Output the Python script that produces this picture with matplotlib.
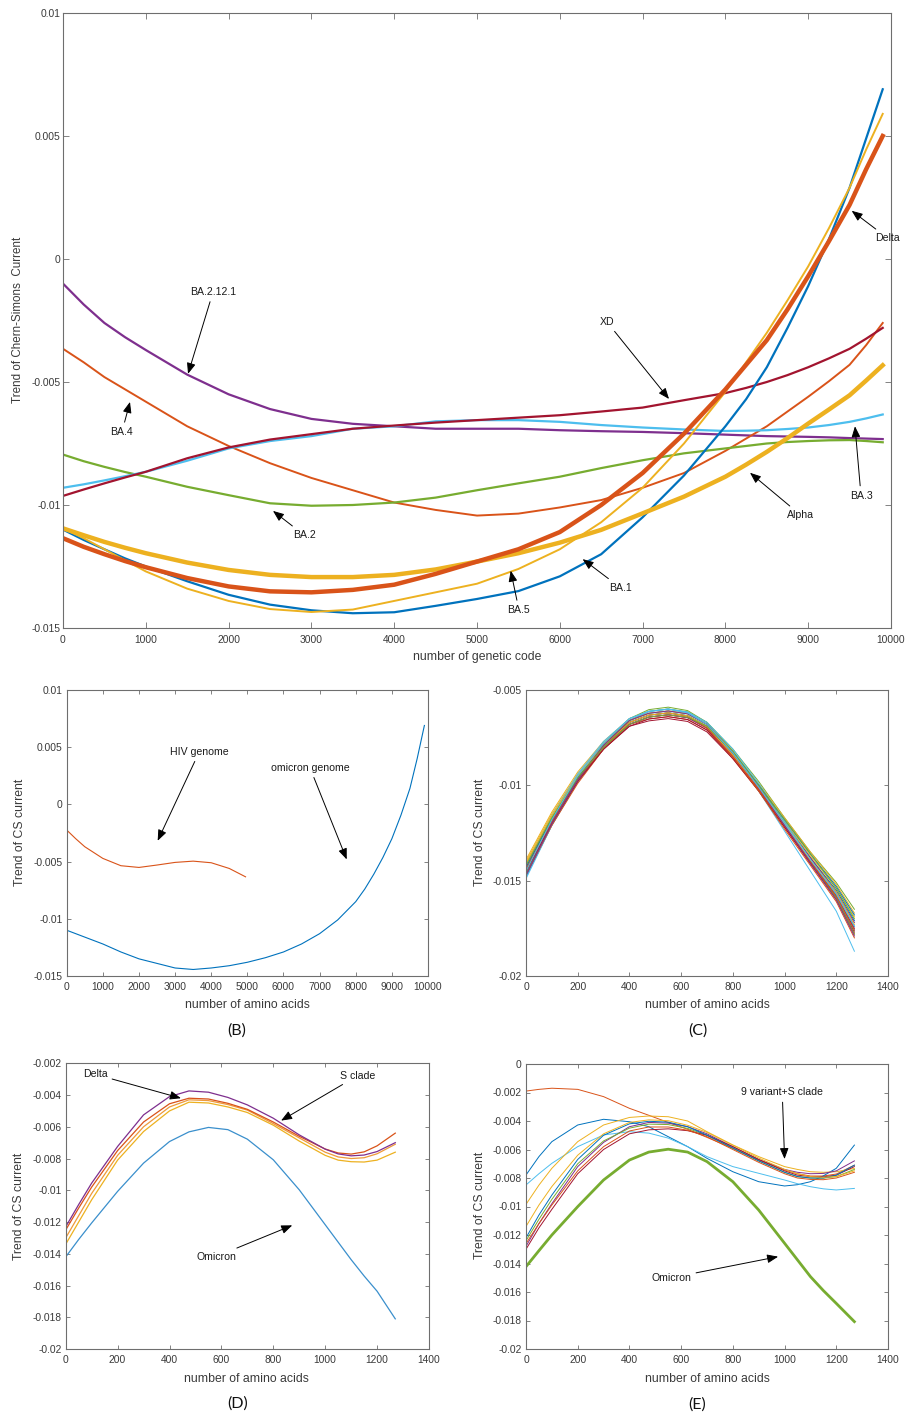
import matplotlib
matplotlib.use('Agg')
import matplotlib.pyplot as plt

plt.rcParams['font.family'] = ['Liberation Sans', 'DejaVu Sans']

# MATLAB default colour order
C_BLUE = '#0072BD'; C_ORANGE = '#D95319'; C_YELLOW = '#EDB120'; C_PURPLE = '#7E2F8E'
C_GREEN = '#77AC30'; C_LBLUE = '#4DBEEE'; C_DRED = '#A2142F'
SPINE = '#6e6e6e'; TICKC = '#3a3a3a'

# ---------------- Panel A data ----------------
xA = [0, 250, 500, 750, 1000, 1500, 2000, 2500, 3000, 3500, 4000, 4500, 5000, 5500, 6000, 6500,
      7000, 7500, 8000, 8250, 8500, 8750, 9000, 9250, 9500, 9700, 9900]
A_BA1 = [-0.0110, -0.01142, -0.0118, -0.01217, -0.0125, -0.0131, -0.01365, -0.01405, -0.01428, -0.0144,
         -0.01436, -0.0141, -0.01382, -0.0135, -0.0129, -0.0120, -0.0105, -0.0088, -0.0068, -0.0057,
         -0.0044, -0.0028, -0.0011, 0.0008, 0.0029, 0.0049, 0.0069]
A_BA5 = [-0.01095, -0.01135, -0.0118, -0.01225, -0.0127, -0.0134, -0.0139, -0.01423, -0.01435, -0.01425,
         -0.0139, -0.01355, -0.0132, -0.0126, -0.0118, -0.0107, -0.0093, -0.0075, -0.0054, -0.0042,
         -0.0030, -0.00168, -0.0003, 0.00125, 0.0029, 0.00445, 0.0059]
A_Delta = [-0.01135, -0.0117, -0.0120, -0.01228, -0.01253, -0.01297, -0.01331, -0.01351, -0.01355, -0.01345,
           -0.01324, -0.0128, -0.0123, -0.0118, -0.0111, -0.0100, -0.0087, -0.0071, -0.0053, -0.0043,
           -0.0033, -0.00205, -0.0007, 0.00072, 0.0022, 0.00365, 0.0050]
A_Alpha = [-0.01095, -0.01123, -0.0115, -0.01174, -0.01196, -0.01234, -0.01264, -0.01284, -0.01293, -0.01293,
           -0.01284, -0.01262, -0.0123, -0.01196, -0.01153, -0.01101, -0.01034, -0.00966, -0.00885, -0.00836,
           -0.00784, -0.00728, -0.00669, -0.00612, -0.00554, -0.00494, -0.00432]
A_BA2121 = [-0.0010, -0.00185, -0.0026, -0.00318, -0.0037, -0.0047, -0.0055, -0.0061, -0.0065, -0.0067,
            -0.0068, -0.0069, -0.0069, -0.0069, -0.00696, -0.0070, -0.00703, -0.00708, -0.00714, -0.00717,
            -0.0072, -0.007215, -0.00723, -0.00725, -0.00728, -0.0073, -0.00732]
A_BA4 = [-0.00365, -0.0042, -0.0048, -0.0053, -0.0058, -0.0068, -0.0076, -0.0083, -0.0089, -0.0094,
         -0.0099, -0.0102, -0.01043, -0.01035, -0.0101, -0.0098, -0.0093, -0.0087, -0.0078, -0.0073,
         -0.0068, -0.0062, -0.0056, -0.00497, -0.0043, -0.0035, -0.0026]
A_BA2 = [-0.00795, -0.00822, -0.00845, -0.00866, -0.00885, -0.00926, -0.0096, -0.00993, -0.01003, -0.0100,
         -0.0099, -0.0097, -0.0094, -0.00912, -0.00885, -0.0085, -0.00818, -0.0079, -0.0077, -0.0076,
         -0.0075, -0.00744, -0.0074, -0.00737, -0.00736, -0.0074, -0.00745]
A_XD = [-0.00963, -0.00937, -0.00912, -0.00888, -0.00865, -0.0081, -0.00766, -0.00734, -0.00712, -0.0069,
        -0.00677, -0.00665, -0.00655, -0.00645, -0.00635, -0.0062, -0.00604, -0.00574, -0.00545, -0.00524,
        -0.0050, -0.00472, -0.0044, -0.00404, -0.00365, -0.00324, -0.0028]
A_BA3 = [-0.0093, -0.00916, -0.0090, -0.00883, -0.00865, -0.0082, -0.0077, -0.0074, -0.0072, -0.0069,
         -0.0068, -0.0066, -0.00655, -0.00655, -0.00662, -0.00675, -0.00685, -0.00693, -0.00699, -0.00698,
         -0.00696, -0.00691, -0.00685, -0.00675, -0.00662, -0.00648, -0.00632]

A_xticks = [0, 1000, 2000, 3000, 4000, 5000, 6000, 7000, 8000, 9000, 10000]
A_xticklabels = ['0', '1000', '2000', '3000', '4000', '5000', '6000', '7000', '8000', '9000', '10000']
A_yticks = [-0.015, -0.01, -0.005, 0, 0.005, 0.01]
A_yticklabels = ['-0.015', '-0.01', '-0.005', '0', '0.005', '0.01']

# ---------------- Panel B data ----------------
xB_omi = [0, 500, 1000, 1500, 2000, 2500, 3000, 3500, 4000, 4500, 5000, 5500, 6000, 6500,
          7000, 7500, 8000, 8250, 8500, 8750, 9000, 9250, 9500, 9700, 9900]
B_omicron = [-0.0110, -0.0116, -0.0122, -0.0129, -0.0135, -0.0139, -0.0143, -0.01443, -0.0143, -0.0141,
             -0.0138, -0.0134, -0.0129, -0.0122, -0.0113, -0.0101, -0.0085, -0.0074, -0.0061, -0.00465,
             -0.0030, -0.00095, 0.0014, 0.0040, 0.0069]
xB_hiv = [0, 250, 500, 1000, 1500, 2000, 2500, 3000, 3500, 4000, 4500, 4950]
B_hiv = [-0.00224, -0.0030, -0.0037, -0.00472, -0.00536, -0.00551, -0.0053, -0.00507, -0.00496, -0.0051,
         -0.0056, -0.00633]

# ---------------- Panel C data ----------------
xC = [0, 100, 200, 300, 400, 475, 550, 625, 700, 800, 900, 1000, 1100, 1200, 1270]
C_curves = [
    [-.0148, -.0121, -.0098, -.0080, -.0067, -.00632, -.0062, -.00635, -.0069, -.0083, -.0100, -.0119, -.0138, -.0155, -.0171],
    [-.0141, -.0117, -.0096, -.0080, -.0068, -.00652, -.0064, -.00655, -.0071, -.0086, -.0103, -.0122, -.0141, -.0160, -.0178],
    [-.0139, -.0114, -.0093, -.0077, -.0065, -.00612, -.0060, -.0062, -.0068, -.0083, -.0100, -.0119, -.0137, -.0154, -.0169],
    [-.0146, -.0120, -.0098, -.0081, -.0068, -.00642, -.0063, -.00645, -.0070, -.0085, -.0102, -.0121, -.0140, -.0158, -.0176],
    [-.0143, -.0117, -.0095, -.0078, -.0066, -.00612, -.0060, -.00615, -.0067, -.0081, -.0098, -.0117, -.0135, -.0151, -.0165],
    [-.0149, -.0121, -.0098, -.0080, -.0066, -.00613, -.0060, -.00618, -.0068, -.0084, -.0103, -.0124, -.0145, -.0166, -.0187],
    [-.0142, -.0118, -.0097, -.0081, -.0069, -.00662, -.0065, -.00665, -.0072, -.0086, -.0103, -.0122, -.0141, -.0159, -.0177],
    [-.0145, -.0119, -.0096, -.0079, -.0066, -.00622, -.0061, -.00625, -.0068, -.0083, -.0101, -.0120, -.0139, -.0157, -.0174],
    [-.0147, -.0121, -.0099, -.0081, -.0068, -.00642, -.0063, -.00645, -.0070, -.0085, -.0103, -.0123, -.0142, -.0161, -.0180],
    [-.0140, -.0115, -.0094, -.0078, -.0066, -.00622, -.0061, -.00625, -.0068, -.0082, -.0099, -.0117, -.0135, -.0152, -.0167],
    [-.0144, -.0119, -.0097, -.0080, -.0068, -.00642, -.0063, -.00645, -.0070, -.0084, -.0101, -.0120, -.0138, -.0156, -.0172],
    [-.0146, -.0119, -.0096, -.0078, -.0065, -.00603, -.0059, -.00608, -.0067, -.0082, -.0100, -.0120, -.0140, -.0159, -.0178],
    [-.0142, -.0116, -.0094, -.0077, -.0065, -.00612, -.0060, -.00615, -.0067, -.0081, -.0099, -.0119, -.0139, -.0158, -.0176],
    [-.0145, -.0120, -.0098, -.0081, -.0069, -.00652, -.0064, -.00655, -.0071, -.0085, -.0102, -.0121, -.0140, -.0158, -.0175],
    [-.0143, -.0118, -.0096, -.0079, -.0067, -.00632, -.0062, -.00635, -.0069, -.0083, -.0100, -.0118, -.0136, -.0153, -.0168],
    [-.0144, -.0119, -.0097, -.0080, -.0067, -.00632, -.0062, -.00638, -.0070, -.0085, -.0102, -.0121, -.0140, -.0158, -.0176],
    [-.0141, -.0116, -.0095, -.0079, -.0067, -.00632, -.0062, -.00635, -.0069, -.0084, -.0101, -.0120, -.0139, -.0156, -.0173],
    [-.0147, -.0120, -.0097, -.0079, -.0066, -.00622, -.0061, -.00625, -.0068, -.0083, -.0101, -.0121, -.0141, -.0160, -.0179],
    [-.0142, -.0117, -.0096, -.0080, -.0068, -.00642, -.0063, -.00643, -.0069, -.0083, -.0100, -.0118, -.0136, -.0154, -.0170],
    [-.0145, -.0118, -.0095, -.0078, -.0065, -.00612, -.0060, -.0062, -.0068, -.0083, -.0101, -.0120, -.0139, -.0157, -.0174],
]

# ---------------- Panel D data ----------------
xD = [0, 50, 100, 200, 300, 400, 475, 550, 625, 700, 800, 900, 1000, 1050, 1100, 1150, 1200, 1270]
D_omicron = [-0.0142, -0.0131, -0.01206, -0.01007, -0.00829, -0.00693, -0.00632, -0.00604, -0.00618, -0.00678,
             -0.00808, -0.00997, -0.01217, -0.01327, -0.01437, -0.0154, -0.01636, -0.0181]
D_purple = [-0.0123, -0.0109, -0.00955, -0.00724, -0.00525, -0.0041, -0.00374, -0.00382, -0.00415, -0.00462,
            -0.00546, -0.00651, -0.00741, -0.00771, -0.00783, -0.00778, -0.00756, -0.0070]
D_delta = [-0.0125, -0.01112, -0.0098, -0.0075, -0.0057, -0.00455, -0.0042, -0.00425, -0.00452, -0.0049,
           -0.0057, -0.0066, -0.0074, -0.00765, -0.00772, -0.00758, -0.0072, -0.0064]
D_orange2 = [-0.0130, -0.0116, -0.0102, -0.0078, -0.0060, -0.00475, -0.0043, -0.00435, -0.0046, -0.00495,
             -0.0058, -0.0067, -0.0076, -0.0079, -0.0080, -0.00795, -0.0077, -0.0071]
D_yellow = [-0.0134, -0.0120, -0.0106, -0.0081, -0.0063, -0.0050, -0.00445, -0.0045, -0.00475, -0.0051,
            -0.0059, -0.0069, -0.0078, -0.0081, -0.0082, -0.00822, -0.0081, -0.0076]

# ---------------- Panel E data ----------------
xE = [0, 50, 100, 200, 300, 400, 475, 550, 625, 700, 800, 900, 1000, 1050, 1100, 1150, 1200, 1270]
E_omicron = [-0.01422, -0.0131, -0.0120, -0.01001, -0.00814, -0.00674, -0.00618, -0.00598, -0.00618, -0.00685,
             -0.00826, -0.01025, -0.01258, -0.01375, -0.01492, -0.0159, -0.0168, -0.01808]
E_variants = [
    [-0.0019, -0.00178, -0.0017, -0.00178, -0.00229, -0.00311, -0.0036, -0.0041, -0.00458, -0.00515,
     -0.00592, -0.00674, -0.00744, -0.0077, -0.00786, -0.00786, -0.00772, -0.0071],
    [-0.00779, -0.0065, -0.00545, -0.00428, -0.00388, -0.00405, -0.0044, -0.0051, -0.0058, -0.00662,
     -0.00756, -0.00826, -0.00856, -0.00847, -0.00826, -0.00785, -0.00732, -0.00569],
    [-0.00849, -0.0077, -0.00697, -0.0058, -0.00498, -0.00475, -0.00485, -0.0052, -0.0058, -0.0065,
     -0.0072, -0.00767, -0.00814, -0.0084, -0.00861, -0.00876, -0.00884, -0.00873],
    [-0.00985, -0.0085, -0.00732, -0.00545, -0.00428, -0.00375, -0.00365, -0.0037, -0.0040, -0.00475,
     -0.00568, -0.0065, -0.0072, -0.0074, -0.00756, -0.0076, -0.00756, -0.00733],
    [-0.0128, -0.0112, -0.0098, -0.0072, -0.0055, -0.0044, -0.0041, -0.00415, -0.0044, -0.0049,
     -0.0058, -0.0067, -0.0074, -0.0076, -0.0077, -0.00768, -0.0075, -0.0068],
    [-0.0124, -0.0109, -0.0095, -0.0070, -0.0054, -0.0045, -0.00422, -0.00425, -0.00452, -0.0050,
     -0.0059, -0.0068, -0.0076, -0.0079, -0.0080, -0.00801, -0.0079, -0.0074],
    [-0.0130, -0.0115, -0.0102, -0.0077, -0.0060, -0.0049, -0.00462, -0.00455, -0.00468, -0.0050,
     -0.0058, -0.0067, -0.0075, -0.0078, -0.0079, -0.00792, -0.0078, -0.0072],
    [-0.0122, -0.0106, -0.0092, -0.0067, -0.0050, -0.0042, -0.00402, -0.00408, -0.0044, -0.0050,
     -0.0059, -0.0068, -0.0076, -0.0079, -0.0080, -0.0080, -0.0078, -0.0071],
    [-0.0126, -0.0112, -0.0099, -0.0075, -0.0058, -0.0047, -0.00442, -0.00442, -0.00465, -0.0051,
     -0.0060, -0.0069, -0.0077, -0.0080, -0.0081, -0.00812, -0.0080, -0.0076],
    [-0.0114, -0.0099, -0.0086, -0.0064, -0.0049, -0.0041, -0.00392, -0.00398, -0.0043, -0.0048,
     -0.0057, -0.0066, -0.0074, -0.0077, -0.0079, -0.00795, -0.0079, -0.0075],
]
E_variant_colors = [C_ORANGE, C_BLUE, C_LBLUE, C_YELLOW, C_PURPLE, C_GREEN, C_DRED, C_BLUE, C_ORANGE, C_YELLOW]

aa_xticks = [0, 200, 400, 600, 800, 1000, 1200, 1400]
aa_xticklabels = ['0', '200', '400', '600', '800', '1000', '1200', '1400']
C_yticks = [-0.02, -0.015, -0.01, -0.005]
C_yticklabels = ['-0.02', '-0.015', '-0.01', '-0.005']
D_yticks = [-0.02, -0.018, -0.016, -0.014, -0.012, -0.01, -0.008, -0.006, -0.004, -0.002]
D_yticklabels = ['-0.02', '-0.018', '-0.016', '-0.014', '-0.012', '-0.01', '-0.008', '-0.006', '-0.004', '-0.002']
E_yticks = [-0.02, -0.018, -0.016, -0.014, -0.012, -0.01, -0.008, -0.006, -0.004, -0.002, 0]
E_yticklabels = ['-0.02', '-0.018', '-0.016', '-0.014', '-0.012', '-0.01', '-0.008', '-0.006', '-0.004', '-0.002', '0']

MATLAB_ORDER = [C_BLUE, C_ORANGE, C_YELLOW, C_PURPLE, C_GREEN, C_LBLUE, C_DRED]

W, H = 906, 1416
fig = plt.figure(figsize=(W / 100, H / 100), dpi=100)
fig.patch.set_facecolor('white')


def px_axes(l, t, r, b):
    return fig.add_axes([l / W, 1 - b / H, (r - l) / W, (b - t) / H])


def style(ax, xticks, xlabels, yticks, ylabels, xlim, ylim, ticklen=3.0, ypad=3.0, xpad=4.5):
    ax.set_xlim(xlim)
    ax.set_ylim(ylim)
    ax.set_xticks(xticks)
    ax.set_xticklabels(xlabels)
    ax.set_yticks(yticks)
    ax.set_yticklabels(ylabels)
    ax.tick_params(direction='in', top=True, right=True, length=ticklen, width=0.6,
                   color=SPINE, labelcolor=TICKC, labelsize=7.4)
    ax.tick_params(axis='y', pad=ypad)
    ax.tick_params(axis='x', pad=xpad)
    for s in ax.spines.values():
        s.set_color(SPINE)
        s.set_linewidth(0.8)


def ftext(x, y, s, **kw):
    fig.text(x / W, 1 - y / H, s, ha='center', va='center', **kw)


def note(ax, text, xy, xytext, fs=7.6):
    ax.annotate(text, xy=xy, xytext=xytext, ha='center', va='center', fontsize=fs,
                color='#1a1a1a', annotation_clip=False,
                arrowprops=dict(arrowstyle='-|>,head_length=0.55,head_width=0.22',
                                color='black', lw=0.7, shrinkA=1.5, shrinkB=0,
                                mutation_scale=12))


# ---------------- Panel A ----------------
axA = px_axes(63, 13, 891, 628)
axA.plot(xA, A_BA2121, color=C_PURPLE, lw=1.6)
axA.plot(xA, A_BA4, color=C_ORANGE, lw=1.4)
axA.plot(xA, A_BA2, color=C_GREEN, lw=1.6)
axA.plot(xA, A_BA3, color=C_LBLUE, lw=1.6)
axA.plot(xA, A_XD, color=C_DRED, lw=1.6)
axA.plot(xA, A_BA1, color=C_BLUE, lw=1.6)
axA.plot(xA, A_BA5, color=C_YELLOW, lw=1.4)
axA.plot(xA, A_Alpha, color=C_YELLOW, lw=3.2)
axA.plot(xA, A_Delta, color=C_ORANGE, lw=3.2)
style(axA, A_xticks, A_xticklabels, A_yticks, A_yticklabels, (0, 10000), (-0.015, 0.01),
      ticklen=4.2, ypad=1.6, xpad=4.8)
note(axA, 'BA.2.12.1', (1510, -0.00467), (1812, -0.00134))
note(axA, 'BA.4', (809, -0.00581), (712, -0.00703))
note(axA, 'BA.2', (2536, -0.01024), (2911, -0.01122))
note(axA, 'XD', (7319, -0.00569), (6570, -0.00256))
note(axA, 'Delta', (9525, 0.00196), (9960, 0.00085))
note(axA, 'BA.3', (9565, -0.0068), (9638, -0.00962))
note(axA, 'Alpha', (8297, -0.00869), (8909, -0.01041))
note(axA, 'BA.1', (6276, -0.0122), (6731, -0.01336))
note(axA, 'BA.5', (5407, -0.01267), (5507, -0.01427))
ftext(477, 657, 'number of genetic code', fontsize=8.8, color=TICKC)
ftext(18, 320, 'Trend of Chern-Simons  Current', fontsize=8.4, color=TICKC, rotation=90)

# ---------------- Panel B ----------------
axB = px_axes(66.7, 690, 428, 976)
axB.plot(xB_omi, B_omicron, color=C_BLUE, lw=0.8)
axB.plot(xB_hiv, B_hiv, color=C_ORANGE, lw=0.8)
style(axB, A_xticks, A_xticklabels, A_yticks, A_yticklabels, (0, 10000), (-0.015, 0.01))
note(axB, 'HIV genome', (2518, -0.00318), (3670, 0.0046))
note(axB, 'omicron genome', (7750, -0.00481), (6734, 0.0032))
ftext(247, 1005, 'number of amino acids', fontsize=8.8, color=TICKC)
ftext(20, 832, 'Trend of CS current', fontsize=8.8, color=TICKC, rotation=90)

# ---------------- Panel C ----------------
axC = px_axes(526, 690, 888, 976)
for i, ys in enumerate(C_curves):
    axC.plot(xC, ys, color=MATLAB_ORDER[i % 7], lw=0.7)
style(axC, aa_xticks, aa_xticklabels, C_yticks, C_yticklabels, (0, 1400), (-0.02, -0.005))
ftext(707, 1005, 'number of amino acids', fontsize=8.8, color=TICKC)
ftext(480, 832, 'Trend of CS current', fontsize=8.8, color=TICKC, rotation=90)

# ---------------- Panel D ----------------
axD = px_axes(65.7, 1063.3, 429, 1349)
axD.plot(xD, D_omicron, color='#3a8fcc', lw=0.9)
axD.plot(xD, D_yellow, color=C_YELLOW, lw=0.9)
axD.plot(xD, D_orange2, color='#EE9A3A', lw=0.9)
axD.plot(xD, D_delta, color=C_ORANGE, lw=0.9)
axD.plot(xD, D_purple, color=C_PURPLE, lw=0.9)
style(axD, aa_xticks, aa_xticklabels, D_yticks, D_yticklabels, (0, 1400), (-0.02, -0.002))
note(axD, 'Delta', (444, -0.0042), (113, -0.00269))
note(axD, 'S clade', (830, -0.00561), (1125, -0.00278))
note(axD, 'Omicron', (873, -0.01221), (579, -0.01418))
ftext(246, 1379, 'number of amino acids', fontsize=8.8, color=TICKC)
ftext(19, 1206, 'Trend of CS current', fontsize=8.8, color=TICKC, rotation=90)

# ---------------- Panel E ----------------
axE = px_axes(526, 1064, 888, 1349)
for ys, c in zip(E_variants, E_variant_colors):
    axE.plot(xE, ys, color=c, lw=0.7)
axE.plot(xE, E_omicron, color=C_GREEN, lw=2.0)
style(axE, aa_xticks, aa_xticklabels, E_yticks, E_yticklabels, (0, 1400), (-0.02, 0))
note(axE, '9 variant+S clade', (1000, -0.00667), (991, -0.00199))
note(axE, 'Omicron', (975, -0.01352), (562, -0.0150))
ftext(707, 1379, 'number of amino acids', fontsize=8.8, color=TICKC)
ftext(480, 1205, 'Trend of CS current', fontsize=8.8, color=TICKC, rotation=90)

# ---------------- Panel letters ----------------
for (x, y, s) in [(237, 1031, '(B)'), (698, 1031, '(C)'), (238, 1404, '(D)'), (697, 1405, '(E)')]:
    ftext(x, y, s, fontsize=11.5, color='#111111', family=['Lato', 'DejaVu Sans'])

fig.savefig('out.png', dpi=100)
